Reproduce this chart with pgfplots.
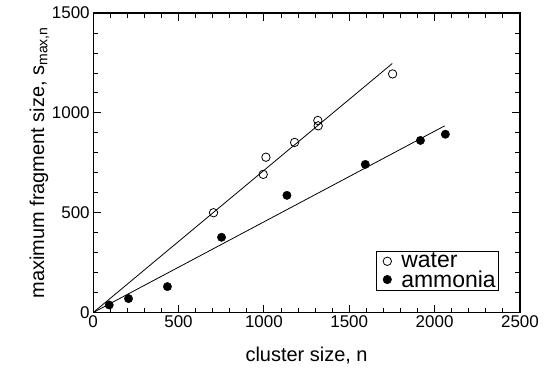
\documentclass[border=0pt]{standalone}
\usepackage{fontspec}
\setmainfont{Liberation Sans}
\usepackage{pgfplots}
\pgfplotsset{compat=1.18}
\begin{document}
\begin{tikzpicture}
\begin{axis}[
  scale only axis, width=426bp, height=299bp,
  xmin=0, xmax=2500, ymin=0, ymax=1500,
  xtick={0,500,1000,1500,2000,2500}, ytick={0,500,1000,1500},
  minor x tick num=4, minor y tick num=4,
  tick align=inside, major tick length=8bp, minor tick length=5bp,
  axis line style={line width=1.2bp},
  every tick/.style={line width=0.8bp, black},
  tick label style={font=\fontsize{17}{17}\selectfont},
  /pgf/number format/assume math mode=true,
  /pgf/number format/1000 sep={},
  xlabel={cluster size, n},
  ylabel={maximum fragment size, s\textsubscript{max,n}},
  label style={font=\fontsize{20}{20}\selectfont},
  xlabel style={yshift=-12bp},
  ylabel style={yshift=-4bp},
  legend style={at={(0.951,0.074)}, anchor=south east, draw=black, line width=0.6bp,
    font=\fontsize{23}{24}\selectfont, inner sep=1bp, row sep=0bp,
    nodes={inner xsep=2bp, inner ysep=0.5bp}},
  legend cell align=left,
  legend image code/.code={\path[draw=none,fill=none] (0bp,-0.1bp) rectangle (22bp,0.1bp); \draw[#1] plot coordinates {(10bp,0bp)};},
]
\addplot[only marks, mark=o, mark size=4.2bp, mark options={line width=0.8bp}] coordinates {
(705,500) (996,692) (1012,778) (1180,852) (1316,962) (1318,935) (1754,1195)};
\addlegendentry{water}
\addplot[only marks, mark=*, mark size=4.2bp] coordinates {
(94,38) (207,70) (435,130) (752,377) (1135,587) (1594,742) (1917,862) (2063,893)};
\addlegendentry{ammonia}
\addplot[forget plot, line width=0.8bp] coordinates {(0,0) (1752,1247)};
\addplot[forget plot, line width=0.8bp] coordinates {(0,0) (2059,935)};
\end{axis}
\path ([xshift=-93bp,yshift=-55bp]current axis.south west) rectangle ([xshift=27bp,yshift=13bp]current axis.north east);
\end{tikzpicture}
\end{document}
